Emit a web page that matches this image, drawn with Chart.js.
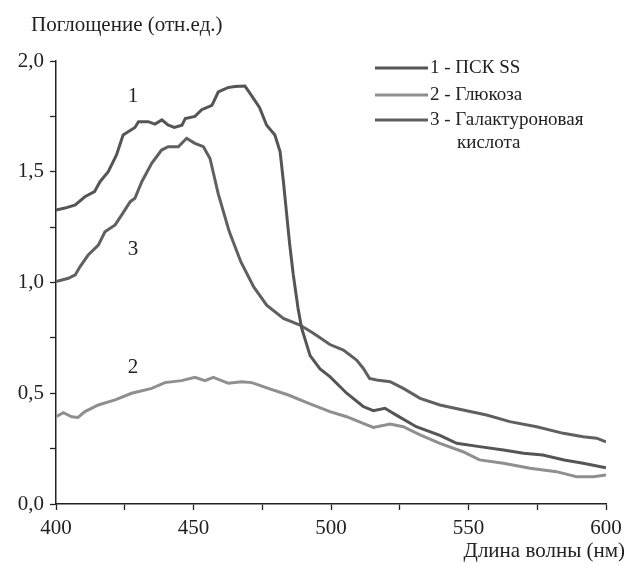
<!DOCTYPE html>
<html>
<head>
<meta charset="utf-8">
<script src="https://cdn.jsdelivr.net/npm/chart.js@4/dist/chart.umd.min.js"></script>
<style>
html,body{margin:0;padding:0;background:#fff;}
#wrap{width:628px;height:563px;}
</style>
</head>
<body>
<div id="wrap"><canvas id="c" width="628" height="563"></canvas></div>
<script>
// ---- data ----
const seriesLabels = ['1 - ПСК SS', '2 - Глюкоза', '3 - Галактуроновая'];
const legendExtra = 'кислота';
const curveNumbers = ['1', '2', '3'];

const wl1 = [400,403.3,407,410.5,414,416,419,422,424.4,428.7,430,433.5,436,438.5,440.7,443,445.8,447,450.5,453,456.7,459,462.5,465,468.7,470.5,474,476.6,479.6,481.5,482.7,483.9,485,486.3,488,489.3,492.4,496,499.6,505.7,511.7,515.4,519.6,523.9,531,539.6,545.7,554,562.7,570,577,584.8,591.7,600];
const abs1 = [1.327,1.336,1.35,1.387,1.41,1.455,1.50,1.576,1.666,1.70,1.726,1.726,1.715,1.734,1.711,1.70,1.71,1.74,1.75,1.78,1.80,1.86,1.88,1.885,1.887,1.855,1.79,1.71,1.666,1.59,1.455,1.305,1.17,1.034,0.885,0.795,0.67,0.61,0.575,0.50,0.44,0.421,0.432,0.40,0.349,0.31,0.274,0.259,0.244,0.229,0.221,0.199,0.184,0.164];

const wl2 = [400,402.7,405.7,408,410.5,415.4,421.5,427.5,434.8,439.6,445.7,450.5,454.2,457.2,462.7,467.5,471.2,477.2,484.5,491.7,499.6,505.7,511.7,515.4,521.5,526.3,532.4,539.6,548,554,562.7,572.4,582,589.3,595.4,600];
const abs2 = [0.394,0.412,0.394,0.391,0.417,0.447,0.47,0.50,0.522,0.548,0.557,0.572,0.557,0.572,0.545,0.552,0.548,0.522,0.492,0.455,0.417,0.394,0.364,0.346,0.361,0.349,0.312,0.274,0.236,0.199,0.184,0.161,0.146,0.123,0.123,0.131];

const wl3 = [400,404.5,407,408.7,411.7,415.4,417.8,421.5,423.9,427,428.7,431.2,434.8,438.4,440.8,444.5,447.5,450.5,453.6,456,459,463,467.2,471.9,476.6,482.7,488.7,493.6,499.6,504.5,509.3,511.7,514,516.6,521.5,526.3,532.4,539.6,548,556.6,565,574.8,584.5,591.7,596.6,600];
const abs3 = [1.004,1.019,1.034,1.071,1.124,1.169,1.229,1.26,1.305,1.365,1.38,1.455,1.538,1.598,1.613,1.613,1.651,1.628,1.613,1.56,1.40,1.23,1.094,0.98,0.898,0.838,0.808,0.771,0.72,0.695,0.65,0.613,0.567,0.56,0.552,0.522,0.477,0.447,0.424,0.402,0.372,0.349,0.319,0.304,0.297,0.281];

const xMin = 400, xMax = 600, xStep = 25, xLabelEvery = 50;
const yMin = 0, yMax = 2, yStep = 0.25, yLabelEvery = 0.5;

// ---- styling ----
const FONT = '"Liberation Serif", "Times New Roman", serif';
const TXT = '#222';
const colors = ['#555555', '#8f8f8f', '#606060'];

function pts(xs, ys){ return xs.map((x,i)=>({x:x, y:ys[i]})); }

const datasets = [
  {label: seriesLabels[0], data: pts(wl1, abs1), borderColor: colors[0]},
  {label: seriesLabels[1], data: pts(wl2, abs2), borderColor: colors[1]},
  {label: seriesLabels[2], data: pts(wl3, abs3), borderColor: colors[2]}
].map(d => Object.assign(d, {borderWidth: 3, pointRadius: 0, tension: 0, fill: false}));

// annotation anchors in data units (wavelength, absorbance)
const numberAnchors = [[428, 1.84], [428, 0.615], [428, 1.15]];

const textPlugin = {
  id: 'texts',
  afterDraw(chart){
    const ctx = chart.ctx;
    const xs = chart.scales.x, ys = chart.scales.y;
    ctx.save();
    ctx.fillStyle = TXT;
    ctx.textBaseline = 'middle';
    // y title
    ctx.font = '21px ' + FONT;
    ctx.textAlign = 'left';
    ctx.fillText('Поглощение (отн.ед.)', 31, 25);
    // x title
    ctx.textAlign = 'right';
    ctx.fillText('Длина волны (нм)', 625, 551);
    // curve numbers
    ctx.textAlign = 'center';
    numberAnchors.forEach((a, i) => {
      ctx.fillText(curveNumbers[i], xs.getPixelForValue(a[0]), ys.getPixelForValue(a[1]));
    });
    // legend
    ctx.font = '19px ' + FONT;
    ctx.textAlign = 'left';
    const rows = [68, 95, 120];
    chart.data.datasets.forEach((d, i) => {
      ctx.strokeStyle = d.borderColor;
      ctx.lineWidth = 3;
      ctx.beginPath();
      ctx.moveTo(375, rows[i]);
      ctx.lineTo(428, rows[i]);
      ctx.stroke();
      ctx.fillText(d.label, 430, rows[i]);
    });
    ctx.fillText(legendExtra, 457, 143);
    ctx.restore();
  }
};

new Chart(document.getElementById('c'), {
  type: 'line',
  data: {datasets},
  options: {
    responsive: false,
    devicePixelRatio: 1,
    animation: false,
    layout: {padding: {top: 61, right: 22, left: 0, bottom: 0}},
    plugins: {legend: {display: false}, tooltip: {enabled: false}, title: {display: false}},
    scales: {
      x: {
        type: 'linear', min: xMin, max: xMax,
        afterFit(s){ s.height = 59; },
        ticks: {
          stepSize: xStep, autoSkip: false, maxRotation: 0, padding: 6,
          color: TXT, font: {family: FONT, size: 21},
          callback: v => (Math.abs(v % xLabelEvery) < 1e-6 ? String(v) : '')
        },
        grid: {drawOnChartArea: false, drawTicks: true, tickLength: 6, tickColor: TXT, tickWidth: 1.3},
        border: {display: true, color: TXT, width: 1.5}
      },
      y: {
        min: yMin, max: yMax,
        afterFit(s){ s.width = 56; },
        ticks: {
          stepSize: yStep, autoSkip: false, padding: 6,
          color: TXT, font: {family: FONT, size: 21},
          callback: v => {
            const r = v / yLabelEvery;
            return Math.abs(r - Math.round(r)) < 1e-6 ? v.toFixed(1).replace('.', ',') : '';
          }
        },
        grid: {drawOnChartArea: false, drawTicks: true, tickLength: 6, tickColor: TXT, tickWidth: 1.3},
        border: {display: true, color: TXT, width: 1.5}
      }
    }
  },
  plugins: [textPlugin]
});
</script>
</body>
</html>
